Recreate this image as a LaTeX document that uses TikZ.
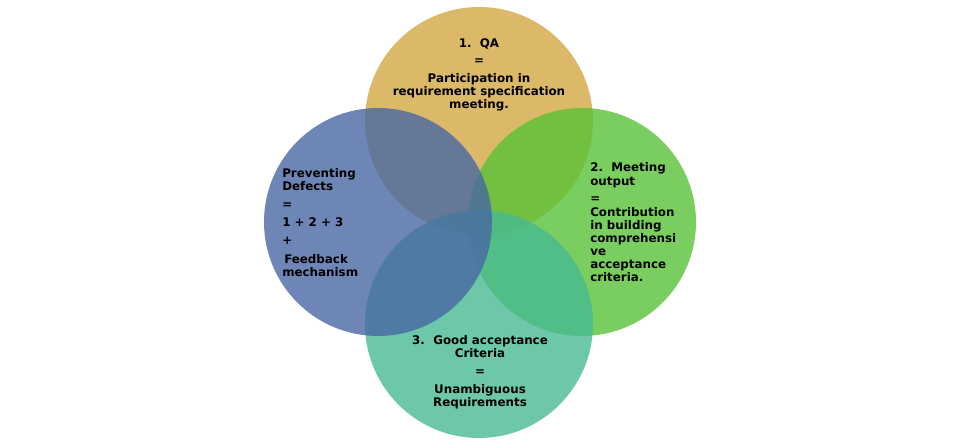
\documentclass[tikz,border=0pt]{standalone}
\usepackage{fontspec}
\setmainfont{DejaVu Sans}
\usetikzlibrary{positioning}
\definecolor{qagold}{RGB}{211,168,66}
\definecolor{meetgreen}{RGB}{89,193,55}
\definecolor{critteal}{RGB}{71,186,146}
\definecolor{prevblue}{RGB}{72,104,164}
\begin{document}
\begin{tikzpicture}[x=0.75pt, y=-0.75pt]
    % Styles
    \tikzstyle{venn} = [circle, draw=none, minimum size=171pt, inner sep=0pt, fill opacity=0.8]
    \tikzstyle{vtext} = [inner sep=0pt, text=black, font={\bfseries\fontsize{8.9}{9.75}\selectfont}]

    \useasboundingbox (0,0) rectangle (958,448);

    % Circles
    \node [venn, fill=qagold] (qa) at (479,121) {};
    \node [venn, fill=meetgreen] (meeting) at (582,222) {};
    \node [venn, fill=critteal] (criteria) at (479,324) {};
    \node [venn, fill=prevblue] (prevent) at (378,222) {};

    % Texts
    \node [vtext, align=center, anchor=north] (qatext) at (479,38.5)
        {1.\hspace{0.7em}QA\\[3pt] =\\[3.75pt] Participation in\\ requirement specification\\ meeting.};
    \node [vtext, align=left, anchor=north west] (meetingtext) at (590,162.5)
        {2.\hspace{0.7em}Meeting\\[0.75pt] output\\[3pt] =\\[0.75pt] Contribution\\ in building\\ comprehensi\\ ve\\ acceptance\\ criteria.};
    \node [vtext, align=center, anchor=north] (criteriatext) at (480,335.5)
        {3.\hspace{0.7em}Good acceptance\\ Criteria\\[3.75pt] =\\[3.75pt] Unambiguous\\ Requirements};
    \node [vtext, align=left, anchor=north west] (preventtext) at (282,168)
        {Preventing\\ Defects\\[3.75pt] =\\[3.75pt] 1 + 2 + 3\\[3.75pt] +\\[4.75pt] \hspace{1.5pt}Feedback\\ mechanism};

\end{tikzpicture}
\end{document}
